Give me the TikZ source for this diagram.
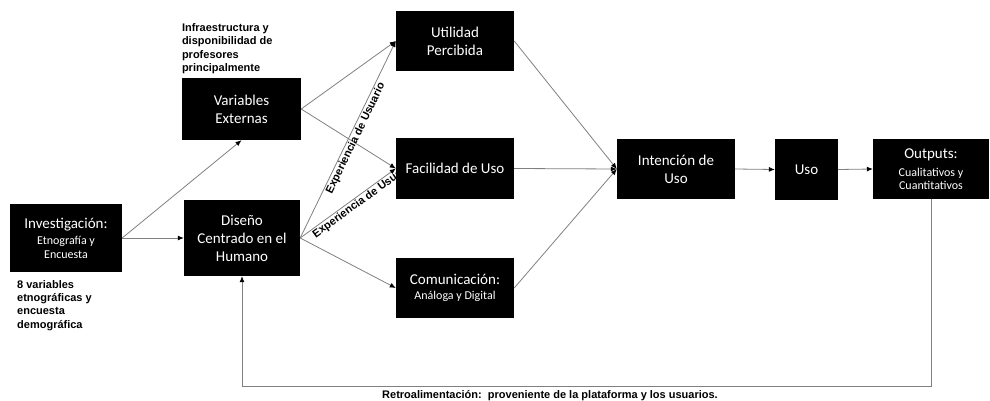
\documentclass[tikz,border=0pt]{standalone}
\usepackage{fontspec}
\setmainfont{Carlito}
\newfontfamily\arial{Liberation Sans}
\usetikzlibrary{arrows.meta}
\pgfdeclarelayer{fondo}
\pgfsetlayers{fondo,main}
\tikzset{
  caja/.style={fill=black, draw=none, text=white, align=center, inner sep=2pt,
    font=\fontsize{15}{18}\selectfont},
  flecha/.style={draw=gray, line width=0.8pt, -{Latex[length=6pt,width=5pt,black]}},
  nota/.style={font=\arial\bfseries\fontsize{11}{13.3}\selectfont, align=left, inner sep=0pt},
  expe/.style={font=\arial\bfseries\fontsize{11}{13}\selectfont, sloped, below, inner sep=1pt}
}
\newcommand{\caja}[6]{
  \node[caja, minimum width=#4, minimum height=#5] (#1) at (#2,#3) {#6};
}
\newcommand{\flecha}[2]{
  \draw[flecha] (#1)--(#2);
}
\newcommand{\chico}{\fontsize{12}{14}\selectfont}
\begin{document}
\begin{tikzpicture}[x=1pt, y=-1pt]

  \useasboundingbox (0,0) rectangle (990,401);

  % Cajas
  % =====

  \caja{inv}{66}{238}{112}{68}{Investigación:\\[-2pt]{\chico Etnografía y}\\[-4pt]{\chico Encuesta}};
  \caja{var}{241.5}{109}{119}{62}{Variables\\Externas};
  \caja{dis}{242}{238}{116}{76}{Diseño\\Centrado en el\\Humano};
  \caja{uti}{455}{41}{118}{60}{Utilidad\\Percibida};
  \caja{fac}{455}{168.5}{118}{61}{Facilidad de Uso};
  \caja{com}{455}{288}{118}{60}{Comunicación:\\[-3pt]{\chico Análoga y Digital}};
  \caja{int}{676}{169}{118}{60}{Intención de\\Uso};
  \caja{uso}{806.5}{169.5}{63}{61}{Uso};
  \caja{out}{931}{169}{116}{60}{Outputs:\\[0pt]{\chico Cualitativos y}\\[-5pt]{\chico Cuantitativos}};

  % Notas
  % =====

  \node[nota, anchor=south west] (infra) at ([yshift=4pt]var.north west)
  {Infraestructura y\\disponibilidad de\\profesores\\principalmente};
  \node[nota, anchor=north west] (etno) at (17,280)
  {8 variables\\etnográficas y\\encuesta\\demográfica};
  \node[nota, anchor=base] (retro) at (550,398)
  {Retroalimentación:\ \ proveniente de la plataforma y los usuarios.};

  % Flechas
  % =======

  \begin{pgfonlayer}{fondo}
    \flecha{inv.east}{var.south};
    \flecha{inv.east}{dis.west};

    \flecha{var.east}{uti.west};
    \flecha{var.east}{fac.west};

    \draw[flecha] (dis.east)--(uti.west)
    node[expe, pos=0.52]{Experiencia de Usuario};
    \draw[flecha] (dis.east)--(fac.west)
    node[expe, pos=0.62]{Experiencia de Usuario};
    \flecha{dis.east}{com.west};

    \flecha{uti.east}{int.west};
    \flecha{fac.east}{int.west};
    \flecha{com.east}{int.west};

    \flecha{int.east}{uso.west};
    \flecha{uso.east}{out.west};

    % Retroalimentacion
    % *****************
    \coordinate (abajo) at (0,386.5);
    \draw[flecha] (out.south)--(out.south |- abajo) -| (dis.south);
  \end{pgfonlayer}

\end{tikzpicture}
\end{document}
